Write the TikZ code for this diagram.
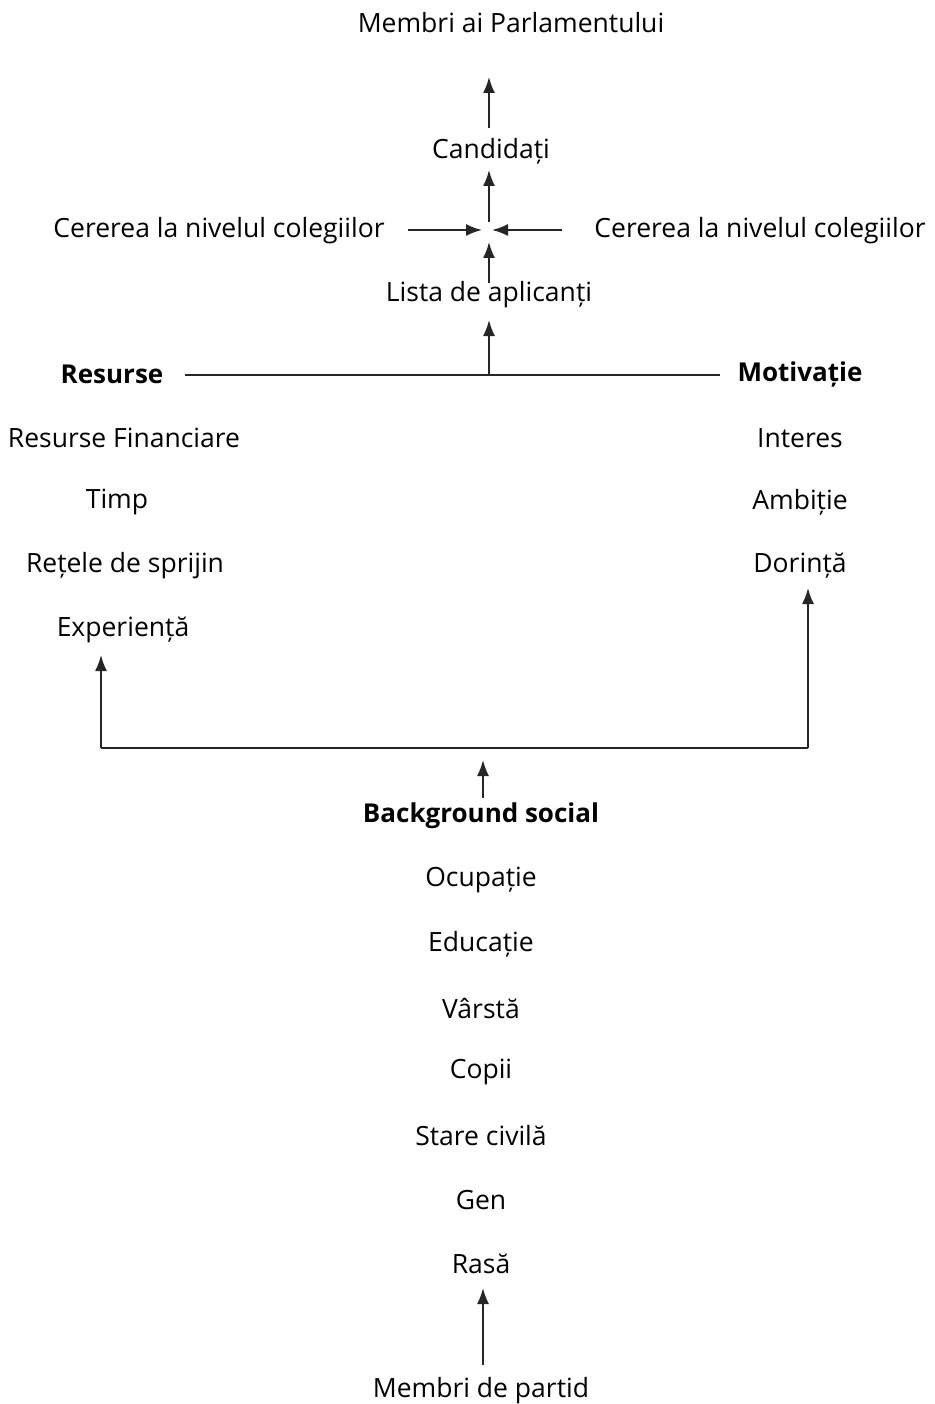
\documentclass[tikz,border=0pt]{standalone}
\usepackage{fontspec}
\setmainfont{Open Sans}
\usetikzlibrary{arrows.meta}
\begin{document}
\begin{tikzpicture}[x=1pt,y=-1pt,
  lbl/.style={inner sep=0pt,anchor=center,font=\fontsize{26.5}{30}\selectfont},
  blbl/.style={lbl,font=\fontsize{26}{30}\selectfont\bfseries},
  conn/.style={line width=1.8pt,black!85},
  arr/.style={conn,-{Latex[length=16pt,width=12pt]}}]
\useasboundingbox (0,0) rectangle (934,1404);
\node[lbl] (mp) at (511,23) {Membri ai Parlamentului};
\node[lbl] (cand) at (491,151) {Candidați};
\node[lbl] (cl) at (219,231) {Cererea la nivelul colegiilor};
\node[lbl] (cr) at (760,231) {Cererea la nivelul colegiilor};
\coordinate (mid) at (489,232);
\node[lbl] (lista) at (489,295) {Lista de aplicanți};
\node[blbl] (res) at (112,374) {Resurse};
\node[blbl] (mot) at (800,374) {Motivație};
\coordinate (hj) at (489,375);
\node[lbl] (r1) at (124,438) {Resurse Financiare};
\node[lbl] (r2) at (117,502) {Timp};
\node[lbl] (r3) at (125,566) {Rețele de sprijin};
\node[lbl] (r4) at (123,630) {Experiență};
\node[lbl] (m1) at (800,438) {Interes};
\node[lbl] (m2) at (800,502) {Ambiție};
\node[lbl] (m3) at (800,566) {Dorință};
\coordinate (bl) at (101,748);
\coordinate (br) at (808,748);
\node[blbl] (bg) at (481,816) {Background social};
\node[lbl] (b1) at (481,880) {Ocupație};
\node[lbl] (b2) at (481,944) {Educație};
\node[lbl] (b3) at (481,1008) {Vârstă};
\node[lbl] (b4) at (481,1072) {Copii};
\node[lbl] (b5) at (481,1136) {Stare civilă};
\node[lbl] (b6) at (481,1200) {Gen};
\node[lbl] (b7) at (481,1264) {Rasă};
\node[lbl] (mdp) at (481,1391) {Membri de partid};
% connectors
\draw[arr] (489,128) -- (489,77);
\draw[arr] (489,222) -- (489,170);
\draw[arr] (408,230) -- (482,230);
\draw[arr] (562,230) -- (492,230);
\draw[arr] (489,283) -- (489,242);
\draw[arr] (hj) -- (489,320);
\draw[conn] (185,375) -- (720,375);
\draw[arr] (bl) -- (101,655);
\draw[arr] (br) -- (808,588);
\draw[conn] (bl) -- (br);
\draw[arr] (483,798) -- (483,760);
\draw[arr] (483,1365) -- (483,1288);
\end{tikzpicture}
\end{document}
